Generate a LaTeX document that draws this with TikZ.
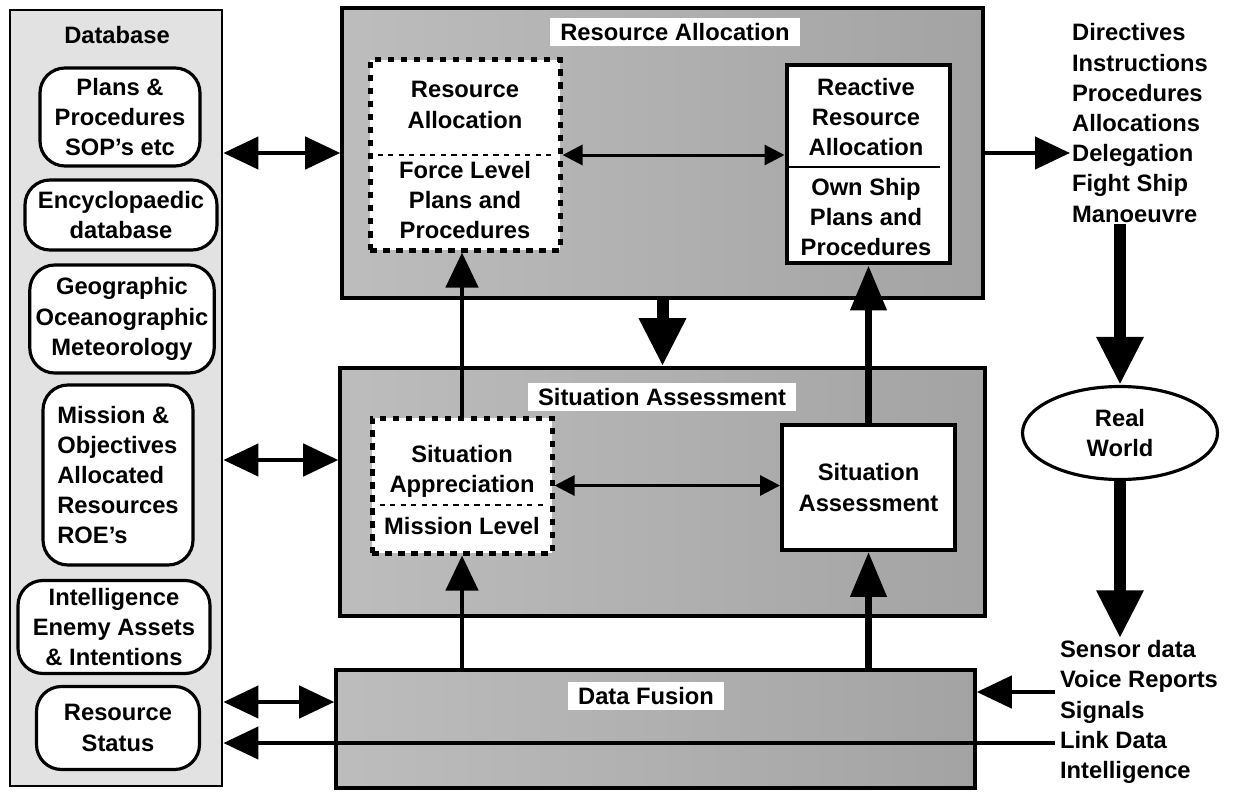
\documentclass[tikz,border=0pt]{standalone}
\usepackage{fontspec}
\setmainfont{Liberation Sans}
\usetikzlibrary{arrows.meta,shapes.geometric,positioning}
\definecolor{dotgray}{RGB}{226,226,226}

\begin{document}
\begin{tikzpicture}[x=0.2mm, y=-0.2mm,
    every node/.style={font=\fontsize{13.5}{17.2}\selectfont\bfseries, align=center},
    layer/.style={draw, line width=2pt, left color=gray!52, right color=gray!72},
    dbitem/.style={draw, line width=1.8pt, rounded corners=5mm, fill=white},
    hatchbox/.style={draw, line width=1mm, dash pattern=on 1.3mm off 1.3mm, fill=white},
    whitebox/.style={draw, line width=2.2pt, fill=white},
    tag/.style={fill=white, inner xsep=6pt, inner ysep=3pt},
    slim/.style={line width=0.9mm, -{Triangle[length=7mm,width=6.4mm]}},
    dbl/.style={line width=0.9mm, {Triangle[length=7mm,width=6.4mm]}-{Triangle[length=7mm,width=6.4mm]}},
    mid/.style={line width=1.5mm, -{Triangle[length=9mm,width=7mm]}},
    fat/.style={line width=2.4mm, -{Triangle[length=9.6mm,width=8.8mm]}},
    thinlink/.style={line width=0.6mm, {Triangle[length=4mm,width=4mm]}-{Triangle[length=4mm,width=4mm]}}]
    \useasboundingbox (0,0) rectangle (1233,792);

    % Database column
    \node[draw, line width=1.6pt, fill=dotgray, minimum width=42.4mm, minimum height=155.2mm] (db) at (116,398) {};
    \node (dbtitle) at (117,35) {Database};
    \node[dbitem, minimum width=32mm, minimum height=19.6mm] (plans) at (120,117) {Plans \&\\Procedures\\SOP's etc};
    \node[dbitem, minimum width=38.4mm, minimum height=14mm] (ency) at (121,215) {Encyclopaedic\\database};
    \node[dbitem, minimum width=35mm, minimum height=21.6mm] (geo) at (122,319) {Geographic\\Oceanographic\\Meteorology};
    \node[dbitem, align=left, minimum width=30mm, minimum height=36mm] (mission) at (118,475) {Mission \&\\Objectives\\Allocated\\Resources\\ROE's};
    \node[dbitem, minimum width=38.4mm, minimum height=18.6mm] (intel) at (114,627) {Intelligence\\Enemy Assets\\\& Intentions};
    \node[dbitem, minimum width=32.6mm, minimum height=16.6mm] (status) at (118,728) {Resource\\Status};

    % Resource allocation level
    \node[layer, minimum width=128.2mm, minimum height=58mm] (ra) at (662.5,153) {};
    \node[tag] (ratag) at (675,32) {Resource Allocation};
    \node[hatchbox, minimum width=38mm, minimum height=38mm] (rad) at (465,155) {};
    \node (radtop) at (465,105) {Resource\\Allocation};
    \node (radbot) at (465,200) {Force Level\\Plans and\\Procedures};
    \draw[dashed, line width=1pt] ([xshift=2mm]rad.west) -- ([xshift=-2mm]rad.east);
    \node[whitebox, line width=2.8pt, minimum width=32.6mm, minimum height=39.6mm] (reactive) at (868.5,164) {};
    \node (reacttop) at (866,117) {Reactive\\Resource\\Allocation};
    \node (reactbot) at (866,217) {Own Ship\\Plans and\\Procedures};
    \draw[line width=1.4pt] ([yshift=-0.6mm]reactive.west) -- ([yshift=-0.6mm,xshift=-2.4mm]reactive.east);

    % Situation assessment level
    \node[layer, minimum width=129mm, minimum height=49.6mm] (sa) at (662.5,492) {};
    \node[tag] (satag) at (662,397) {Situation Assessment};
    \node[hatchbox, minimum width=36mm, minimum height=27mm] (sapp) at (462,485.5) {};
    \node (sapptop) at (462,471) {Situation\\Appreciation};
    \node (sappbot) at (462,526) {Mission Level};
    \draw[dashed, line width=1pt] ([yshift=-3.9mm,xshift=2mm]sapp.west) -- ([yshift=-3.9mm,xshift=-2mm]sapp.east);
    \node[whitebox, minimum width=34.6mm, minimum height=25mm] (sabox) at (868.5,487.5) {Situation\\Assessment};

    % Data fusion level
    \node[layer, minimum width=127.8mm, minimum height=23.6mm] (df) at (655.5,729) {};
    \node[tag] (dftag) at (646,696) {Data Fusion};

    % Outside world
    \node[anchor=west, align=left, inner sep=1pt] (outlist) at (1070,123) {Directives\\Instructions\\Procedures\\Allocations\\Delegation\\Fight Ship\\Manoeuvre};
    \node[ellipse, draw, line width=1.8pt, minimum width=39mm, minimum height=18.6mm] (world) at (1120,433) {Real\\World};
    \node[anchor=west, align=left, inner sep=1pt] (inlist) at (1058,712) {Sensor data\\Voice Reports\\Signals\\Link Data\\Intelligence};
    \coordinate (sigin) at (1055,692);
    \coordinate (linkin) at (1055,743);
    \coordinate (salink) at ([yshift=6.4mm]sa.west);
    \coordinate (dflink) at ([yshift=5.4mm]df.west);

    % Arrows
    \draw[dbl] (ra.west -| db.east) -- (ra.west);
    \draw[dbl] (salink -| db.east) -- (salink);
    \draw[dbl] (dflink -| db.east) -- (dflink);
    \draw[slim] (linkin) -- (linkin -| db.east);
    \draw[slim] (sigin) -- (sigin -| df.east);
    \draw[thinlink] (rad.east) -- (rad.east -| reactive.west);
    \draw[thinlink] (sapp.east) -- (sapp.east -| sabox.west);
    \draw[slim] (sapp.north) -- (sapp.north |- rad.south);
    \draw[fat] (ra.south) -- (ra.south |- sa.north);
    \draw[mid] (sabox.north) -- (reactive.south);
    \draw[slim] (sapp.south |- df.north) -- (sapp.south);
    \draw[mid] (sabox.south |- df.north) -- (sabox.south);
    \draw[slim] (ra.east) -- (ra.east -| outlist.west);
    \draw[fat] (outlist.south -| world.north) -- (world.north);
    \draw[fat] (world.south) -- (world.south |- inlist.north);
\end{tikzpicture}
\end{document}
